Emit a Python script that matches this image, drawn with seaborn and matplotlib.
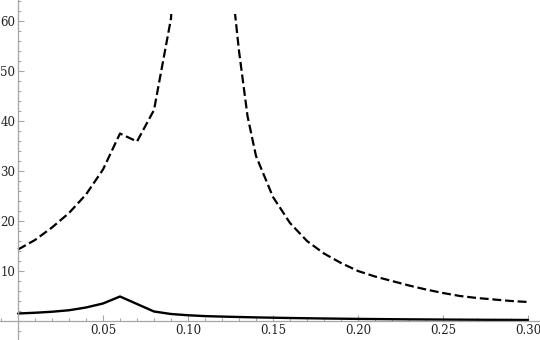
import numpy as np
import pandas as pd
import seaborn as sns
import matplotlib
matplotlib.use("Agg")
import matplotlib.pyplot as plt
from matplotlib.patches import Rectangle
from matplotlib.ticker import MultipleLocator, FormatStrFormatter

# dashed curve, left branch (before the singularity)
x_left = [0.0, 0.01, 0.02, 0.03, 0.04, 0.05, 0.06, 0.07, 0.08, 0.09, 0.095]
dashed_left = [14.3, 16.2, 18.7, 21.6, 25.3, 30.3, 37.5, 35.9, 42.2, 60.5, 90.0]

# dashed curve, right branch (after the singularity)
x_right = [0.125, 0.13, 0.135, 0.14, 0.15, 0.16, 0.17, 0.18, 0.19, 0.20, 0.21,
           0.22, 0.23, 0.24, 0.25, 0.26, 0.27, 0.28, 0.29, 0.30]
dashed_right = [70.0, 54.0, 41.0, 33.0, 24.8, 19.6, 16.0, 13.5, 11.6, 10.0, 8.9,
                8.0, 7.1, 6.3, 5.6, 5.0, 4.6, 4.3, 4.0, 3.8]

# solid curve
x_solid = [0.0, 0.01, 0.02, 0.03, 0.04, 0.05, 0.06, 0.07, 0.08, 0.09, 0.10,
           0.11, 0.12, 0.13, 0.14, 0.15, 0.16, 0.17, 0.18, 0.19, 0.20,
           0.21, 0.22, 0.23, 0.24, 0.25, 0.26, 0.27, 0.28, 0.29, 0.30]
solid = [1.5, 1.65, 1.85, 2.15, 2.7, 3.5, 4.9, 3.4, 1.9, 1.4, 1.15,
         0.98, 0.88, 0.8, 0.72, 0.66, 0.6, 0.55, 0.5, 0.46, 0.42,
         0.39, 0.36, 0.33, 0.31, 0.29, 0.27, 0.25, 0.23, 0.22, 0.2]

x_major = [0.05, 0.10, 0.15, 0.20, 0.25, 0.30]
y_major = [10, 20, 30, 40, 50, 60]
y_clip = 61.5

sns.set_style("ticks")
plt.rcParams["font.family"] = ["DejaVu Serif"]

fig = plt.figure(figsize=(5.4, 3.4), dpi=100)
ax = fig.add_axes([0, 0, 1, 1])

dash = (0, (4, 1.7))
sns.lineplot(x=x_left, y=dashed_left, ax=ax, color="black", lw=1.6, sort=False)
sns.lineplot(x=x_right, y=dashed_right, ax=ax, color="black", lw=1.6, sort=False)
sns.lineplot(x=x_solid, y=solid, ax=ax, color="black", lw=1.7, sort=False)

ax.set_xlim(-18 / 1700, 522 / 1700)
ax.set_ylim(-19 / 5, 321 / 5)

# clip curves at the plot range like the original
clip = Rectangle((-1, -10), 2, 10 + y_clip, transform=ax.transData)
for i, ln in enumerate(ax.lines):
    ln.set_clip_path(clip)
    if i < 2:
        ln.set_linestyle(dash)
        ln.set_dash_capstyle("butt")

for side in ["top", "right"]:
    ax.spines[side].set_visible(False)
for side in ["left", "bottom"]:
    ax.spines[side].set_position(("data", 0))
    ax.spines[side].set_color("#a6a6a6")
    ax.spines[side].set_linewidth(0.9)

ax.xaxis.set_major_locator(plt.FixedLocator(x_major))
ax.xaxis.set_minor_locator(MultipleLocator(0.01))
ax.xaxis.set_major_formatter(FormatStrFormatter("%.2f"))
ax.yaxis.set_major_locator(plt.FixedLocator(y_major))
ax.yaxis.set_minor_locator(MultipleLocator(2))

ax.tick_params(which="both", direction="in", color="#a6a6a6", width=0.8,
               labelsize=8.5, labelcolor="#222222")
ax.tick_params(which="major", length=4.5)
ax.tick_params(which="minor", length=2.5)
ax.tick_params(axis="y", which="major", pad=2)
ax.tick_params(axis="x", which="major", pad=2.5)
ax.set_xlabel("")
ax.set_ylabel("")

fig.savefig("out.png", dpi=100)
